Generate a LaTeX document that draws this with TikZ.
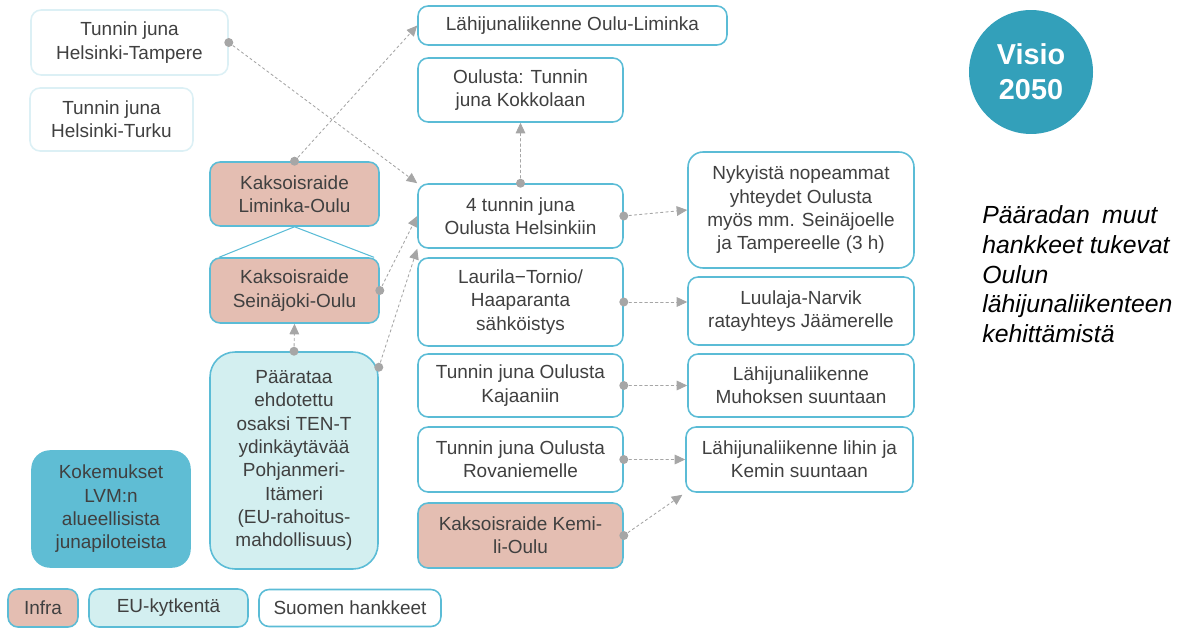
\documentclass[tikz,border=0pt]{standalone}
\usepackage{fontspec}
\setmainfont{Liberation Sans}
\usetikzlibrary{arrows.meta,calc}
\definecolor{VisioCyan}{HTML}{5BBCD6}
\definecolor{VisioPale}{HTML}{DCF0F5}
\definecolor{VisioInfra}{HTML}{E4BEB2}
\definecolor{VisioEU}{HTML}{D3EFF0}
\definecolor{VisioTeal}{HTML}{5FBDD4}
\definecolor{VisioCircle}{HTML}{33A0BA}
\definecolor{VisioText}{HTML}{404040}
\definecolor{VisioLink}{HTML}{A6A6A6}

\begin{document}
\begin{tikzpicture}[x=0.02cm,y=-0.02cm,line cap=round,line join=round,
  box/.style={draw=VisioCyan,line width=0.9pt,fill=white,rounded corners=0.2cm,align=center,inner sep=2pt,text=VisioText,font=\fontsize{10.8}{13.3}\selectfont},
  infra/.style={box,fill=VisioInfra}, eu/.style={box,fill=VisioEU}, pale/.style={box,draw=VisioPale},
  link/.style={VisioLink,line width=0.5pt,dash pattern=on 1.4pt off 1.6pt,-{Triangle[length=6pt,width=5.5pt]}}]
  \useasboundingbox (0,0) rectangle (1185,628);
  % left column
  \node[pale,minimum width=3.94cm,minimum height=1.30cm] (HT) at (129.5,42.5) {Tunnin juna\\Helsinki-Tampere};
  \node[pale,minimum width=3.26cm,minimum height=1.26cm] (HTu) at (111.5,119.5) {Tunnin juna\\Helsinki-Turku};
  \node[infra,minimum width=3.38cm,minimum height=1.28cm] (LO) at (294.5,194) {Kaksoisraide\\Liminka-Oulu};
  \node[infra,minimum width=3.38cm,minimum height=1.30cm] (SO) at (294.5,290.5) {Kaksoisraide\\Seinäjoki-Oulu};
  \node[eu,rounded corners=0.5cm,minimum width=3.36cm,minimum height=4.34cm] (PR) at (294,460.5) {Päärataa\\ehdotettu\\osaksi TEN-T\\ydinkäytävää\\Pohjanmeri-\\Itämeri\\(EU-rahoitus-\\mahdollisuus)};
  \node[box,fill=VisioTeal,draw=VisioTeal,rounded corners=0.36cm,minimum width=3.16cm,minimum height=2.32cm] (KO) at (111,509) {Kokemukset\\LVM:n\\alueellisista\\junapiloteista};
  % middle column
  \node[box,minimum width=6.18cm,minimum height=0.78cm] (OL) at (572.5,25.5) {Lähijunaliikenne Oulu-Liminka};
  \node[box,minimum width=4.10cm,minimum height=1.28cm] (KK) at (520.5,90) {Oulusta: Tunnin\\juna Kokkolaan};
  \node[box,minimum width=4.10cm,minimum height=1.28cm] (H4) at (520.5,216) {4 tunnin juna\\Oulusta Helsinkiin};
  \node[box,minimum width=4.10cm,minimum height=1.76cm] (LT) at (520.5,302) {Laurila−Tornio/\\Haaparanta\\sähköistys};
  \node[box,minimum width=4.10cm,minimum height=1.26cm] (KA) at (520.5,385.5) {Tunnin juna Oulusta\\Kajaaniin};
  \node[box,minimum width=4.10cm,minimum height=1.30cm] (RO) at (520.5,459.5) {Tunnin juna Oulusta\\Rovaniemelle};
  \node[infra,minimum width=4.10cm,minimum height=1.30cm] (KE) at (520.5,535.5) {Kaksoisraide Kemi-\\li-Oulu};
  % right column
  \node[box,rounded corners=0.3cm,minimum width=4.52cm,minimum height=2.32cm] (NY) at (801,210) {Nykyistä nopeammat\\yhteydet Oulusta\\myös mm. Seinäjoelle\\ja Tampereelle (3 h)};
  \node[box,minimum width=4.52cm,minimum height=1.36cm] (LN) at (801,311) {Luulaja-Narvik\\ratayhteys Jäämerelle};
  \node[box,minimum width=4.52cm,minimum height=1.26cm] (MU) at (801,385.5) {Lähijunaliikenne\\Muhoksen suuntaan};
  \node[box,minimum width=4.54cm,minimum height=1.30cm] (LK) at (799.5,459.5) {Lähijunaliikenne lihin ja\\Kemin suuntaan};
  \node[circle,fill=VisioCircle,minimum size=2.48cm,inner sep=0pt,text=white,align=center,font=\fontsize{16.4}{20}\selectfont\bfseries] (visio) at (1031,72) {Visio\\2050};
  \node[anchor=north west,inner sep=0pt,align=left,font=\fontsize{14.1}{17}\selectfont\itshape] (note) at (982,205) {Pääradan\hspace{0.5em}muut\\hankkeet tukevat\\Oulun\\lähijunaliikenteen\\kehittämistä};
  % legend
  \node[infra,minimum width=1.40cm,minimum height=0.76cm] (leginfra) at (43,608) {Infra};
  \node[eu,minimum width=3.18cm,minimum height=0.76cm] (legeu) at (168.5,608) {EU-kytkentä};
  \node[box,minimum width=3.64cm,minimum height=0.74cm] (legfi) at (350,608) {Suomen hankkeet};
  % connectors
  \draw[VisioCyan,line width=0.6pt] ([xshift=0.2cm]SO.north west) -- (LO.south) -- ([xshift=-0.12cm]SO.north east);
  \coordinate (pr1) at ([yshift=-0.32cm]PR.north east);
  \draw[link] (HT.east) -- (H4.north west);
  \draw[link] (LO.north) -- (OL.west);
  \draw[link] (H4.north) -- (KK.south);
  \draw[link] (SO.east) -- (H4.west);
  \draw[link] (pr1) -- (H4.south west);
  \draw[link] (PR.north) -- (SO.south);
  \draw[link] (H4.east) -- (NY.west);
  \draw[link] (LT.east) -- (LT.east -| LN.west);
  \draw[link] (KA.east) -- (KA.east -| MU.west);
  \draw[link] (RO.east) -- (RO.east -| LK.west);
  \draw[link,shorten >=2pt] (KE.east) -- (LK.south west);
  \foreach \P in {HT.east,LO.north,H4.north,SO.east,pr1,PR.north,H4.east,LT.east,KA.east,RO.east,KE.east}{\fill[VisioLink] (\P) circle (0.09cm);}
\end{tikzpicture}
\end{document}
